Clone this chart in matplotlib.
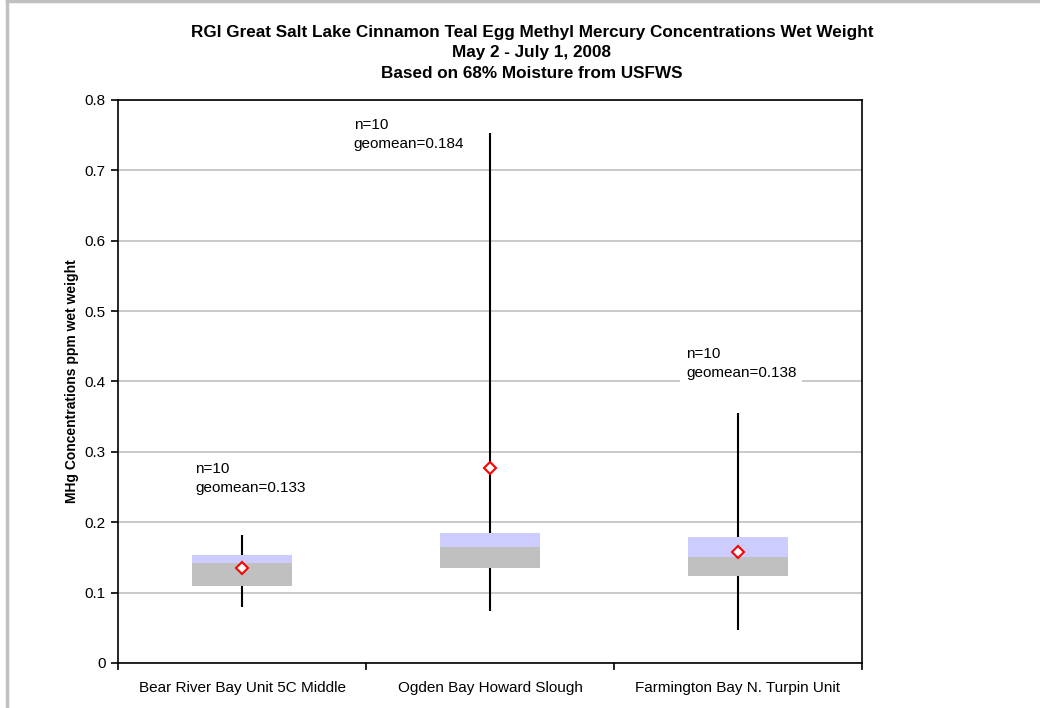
import matplotlib.pyplot as plt
import numpy as np
from matplotlib.lines import Line2D

plt.rcParams['font.family'] = ['Liberation Sans', 'DejaVu Sans']

# Box plot statistics
categories = ["Bear River Bay Unit 5C Middle", "Ogden Bay Howard Slough",
              "Farmington Bay N. Turpin Unit"]
minimum = [0.080, 0.074, 0.047]
q1 = [0.109, 0.135, 0.123]
median = [0.142, 0.165, 0.151]
q3 = [0.153, 0.185, 0.179]
maximum = [0.182, 0.753, 0.355]
mean = [0.135, 0.277, 0.158]
n_samples = [10, 10, 10]
geomean = [0.133, 0.184, 0.138]

fig = plt.figure(figsize=(10.4, 7.08), dpi=100)
ax = fig.add_axes([0.1135, 0.0636, 0.7153, 0.7952])

x = np.arange(len(categories))
lower = np.array(median) - np.array(q1)
upper = np.array(q3) - np.array(median)

# whiskers behind the boxes
ax.vlines(x, minimum, maximum, color='black', lw=1.5, zorder=2)
ax.bar(x, lower, bottom=q1, width=0.4, color='#c0c0c0', zorder=3)
ax.bar(x, upper, bottom=median, width=0.4, color='#ccccff', zorder=3)
ax.plot(x, mean, 'D', ms=6, mfc='white', mec='red', mew=1.5, zorder=4)

# annotation positions (left edge x, top y)
label_pos = [(-0.19, 0.286), (0.45, 0.774), (1.79, 0.449)]
for (lx, ly), n, g in zip(label_pos, n_samples, geomean):
    ax.text(lx, ly, f"n={n}\ngeomean={g:.3f}", ha='left', va='top', fontsize=11,
            linespacing=1.45, zorder=5,
            bbox=dict(facecolor='white', edgecolor='none', pad=4))

ax.set_xlim(-0.5, 2.5)
ax.set_ylim(0, 0.8)
ax.set_yticks(np.arange(0, 0.81, 0.1))
ax.set_yticklabels(['0'] + [f"{v:.1f}" for v in np.arange(0.1, 0.81, 0.1)], fontsize=11)
ax.yaxis.grid(True, color='#c0c0c0', lw=1.2)
ax.set_axisbelow(True)
ax.set_xticks([-0.5, 0.5, 1.5, 2.5])
ax.set_xticklabels([])
ax.set_xticks(x, minor=True)
ax.set_xticklabels(categories, minor=True, fontsize=11)
ax.tick_params(axis='x', which='minor', length=0, pad=13)
ax.tick_params(axis='x', which='major', length=5, width=1.2)
ax.tick_params(axis='y', length=5, width=1.2, pad=4)
for s in ax.spines.values():
    s.set_linewidth(1.2)

ax.set_ylabel("MHg Concentrations ppm wet weight", fontsize=10, fontweight='bold', labelpad=4)

fig.text(0.5115, 0.965, "RGI Great Salt Lake Cinnamon Teal Egg Methyl Mercury Concentrations Wet Weight\n"
         "May 2 - July 1, 2008\nBased on 68% Moisture from USFWS",
         ha='center', va='top', fontsize=12.3, fontweight='bold', linespacing=1.45)

# chart-area border (top and left)
fig.add_artist(Line2D([0.0067, 0.0067], [0, 0.9986], color='#c0c0c0', lw=2.5,
                      transform=fig.transFigure))
fig.add_artist(Line2D([0.0067, 1.0], [0.9986, 0.9986], color='#c0c0c0', lw=2.5,
                      transform=fig.transFigure))

fig.savefig("out.png", dpi=100)
